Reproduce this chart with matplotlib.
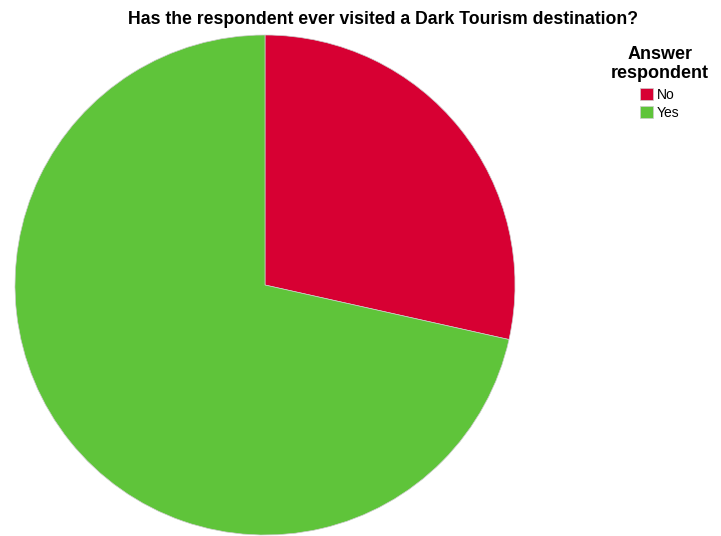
import matplotlib.pyplot as plt

plt.rcParams['font.family'] = ['Liberation Sans', 'DejaVu Sans']

# answers and share of respondents (%)
labels = ['No', 'Yes']
values = [28.5, 71.5]
colors = ['#D70033', '#5FC43A']

fig = plt.figure(figsize=(7.21, 5.36), dpi=100)
ax = fig.add_axes([15/721, 1/536, 500/721, 500/536])

wedges, _ = ax.pie(values, colors=colors, startangle=90, counterclock=False,
                   radius=1, wedgeprops=dict(linewidth=0.5, edgecolor='#cccccc'))
ax.set_xlim(-1, 1)
ax.set_ylim(-1, 1)
ax.set_aspect('equal')

fig.text(383/721, 1 - 20/536, 'Has the respondent ever visited a Dark Tourism destination?',
         ha='center', va='center', fontsize=12.7, fontweight='bold')

leg = fig.legend(wedges, labels, title='Answer\nrespondent', loc='upper center',
                 bbox_to_anchor=(660/721, 1 - 36/536), frameon=False, fontsize=10,
                 handlelength=0.9, handleheight=0.9, handletextpad=0.3,
                 labelspacing=0.3, borderpad=0.2)
leg._legend_box.sep = 4
leg.get_title().set_fontweight('bold')
leg.get_title().set_fontsize(13)
leg.get_title().set_multialignment('center')

fig.savefig('out.png', dpi=100)
